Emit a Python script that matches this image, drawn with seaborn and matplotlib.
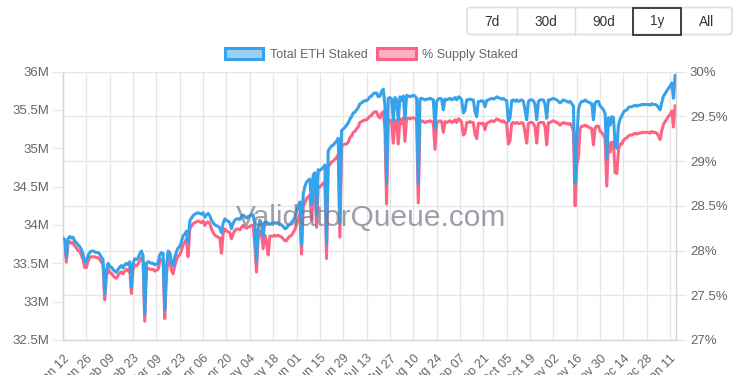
import pandas as pd
import numpy as np
import matplotlib
matplotlib.use("Agg")
import matplotlib.pyplot as plt
import matplotlib.dates as mdates
from matplotlib.patches import Patch, FancyBboxPatch, Rectangle
import seaborn as sns

sns.set_style("white")
plt.rcParams['font.family'] = ['Liberation Sans', 'DejaVu Sans']

# === daily values, Jan 12 2025 -> Jan 14 2026 (one row = 2 weeks) ===
start_date = "2025-01-12"
eth_staked_m = [
    33.83, 33.81, 33.58, 33.82, 33.85, 33.83, 33.84, 33.79, 33.77, 33.74, 33.72, 33.68, 33.62, 33.52,
    33.52, 33.60, 33.64, 33.66, 33.66, 33.65, 33.64, 33.64, 33.62, 33.58, 33.55, 33.10, 33.40, 33.50,
    33.46, 33.45, 33.42, 33.40, 33.38, 33.42, 33.45, 33.47, 33.44, 33.48, 33.50, 33.48, 33.52, 33.19,
    33.50, 33.56, 33.55, 33.57, 33.62, 33.66, 33.60, 32.83, 33.50, 33.52, 33.51, 33.50, 33.50, 33.48,
    33.49, 33.50, 33.61, 33.64, 33.63, 32.89, 33.45, 33.66, 33.64, 33.52, 33.47, 33.58, 33.65, 33.70,
    33.72, 33.78, 33.86, 33.88, 33.92, 33.78, 34.05, 34.09, 34.12, 34.14, 34.15, 34.16, 34.15, 34.14,
    34.16, 34.10, 34.13, 34.15, 34.12, 34.06, 34.03, 34.00, 33.99, 33.98, 33.96, 33.90, 34.02, 34.08,
    34.06, 34.05, 34.03, 33.95, 34.02, 34.06, 34.08, 34.08, 34.07, 34.11, 34.13, 34.11, 34.09, 34.11,
    34.12, 34.13, 34.13, 34.00, 33.52, 33.95, 34.06, 34.02, 33.85, 34.03, 34.04, 34.02, 34.01, 34.02,
    34.02, 34.03, 34.02, 34.03, 34.01, 34.00, 33.98, 33.95, 33.96, 33.99, 34.01, 34.03, 34.06, 34.10,
    34.18, 34.24, 34.30, 33.74, 34.40, 34.50, 34.56, 34.58, 34.60, 34.27, 34.65, 34.68, 34.12, 34.72,
    34.71, 34.73, 34.75, 34.78, 33.75, 34.97, 35.00, 35.03, 35.04, 35.07, 35.09, 35.13, 34.02, 35.23,
    35.25, 35.27, 35.30, 35.33, 35.38, 35.41, 35.46, 35.47, 35.50, 35.53, 35.58, 35.59, 35.61, 35.62,
    35.62, 35.64, 35.67, 35.68, 35.71, 35.72, 35.72, 35.67, 35.68, 35.74, 35.77, 35.56, 34.53, 35.65,
    35.66, 35.64, 35.36, 35.66, 35.63, 35.35, 35.67, 35.62, 35.68, 35.38, 35.69, 35.68, 35.67, 35.68,
    35.69, 35.68, 35.65, 34.53, 35.64, 35.65, 35.64, 35.63, 35.64, 35.64, 35.65, 35.64, 35.63, 35.26,
    35.61, 35.64, 35.65, 35.64, 35.50, 35.64, 35.63, 35.64, 35.65, 35.63, 35.64, 35.66, 35.63, 35.67,
    35.66, 35.63, 35.46, 35.49, 35.63, 35.63, 35.64, 35.63, 35.63, 35.48, 35.41, 35.61, 35.61, 35.62,
    35.61, 35.54, 35.62, 35.63, 35.64, 35.65, 35.64, 35.65, 35.67, 35.66, 35.65, 35.64, 35.65, 35.63,
    35.62, 35.35, 35.40, 35.62, 35.63, 35.61, 35.63, 35.61, 35.62, 35.63, 35.61, 35.50, 35.37, 35.61,
    35.63, 35.63, 35.62, 35.57, 35.37, 35.61, 35.63, 35.63, 35.63, 35.57, 35.39, 35.63, 35.63, 35.64,
    35.65, 35.64, 35.63, 35.61, 35.59, 35.61, 35.63, 35.62, 35.61, 35.60, 35.61, 35.58, 35.55, 34.55,
    35.10, 35.50, 35.58, 35.61, 35.61, 35.63, 35.61, 35.60, 35.59, 35.58, 35.37, 35.59, 35.61, 35.61,
    35.55, 35.53, 35.50, 35.45, 34.86, 35.40, 35.30, 35.41, 35.40, 35.05, 35.00, 35.30, 35.38, 35.42,
    35.47, 35.49, 35.50, 35.53, 35.54, 35.54, 35.55, 35.56, 35.55, 35.56, 35.56, 35.57, 35.57, 35.57,
    35.57, 35.57, 35.56, 35.58, 35.57, 35.57, 35.56, 35.53, 35.50, 35.60, 35.68, 35.71, 35.75, 35.78,
    35.81, 35.85, 35.65, 35.95,
]
supply_staked_pct = [
    28.08, 28.06, 27.87, 28.07, 28.10, 28.08, 28.09, 28.05, 28.03, 28.00, 27.99, 27.95, 27.90, 27.81,
    27.81, 27.88, 27.92, 27.93, 27.93, 27.93, 27.92, 27.92, 27.90, 27.87, 27.84, 27.45, 27.71, 27.80,
    27.75, 27.75, 27.72, 27.70, 27.69, 27.72, 27.75, 27.76, 27.74, 27.77, 27.79, 27.77, 27.80, 27.52,
    27.79, 27.84, 27.83, 27.85, 27.89, 27.92, 27.87, 27.21, 27.79, 27.80, 27.79, 27.79, 27.79, 27.77,
    27.78, 27.79, 27.88, 27.90, 27.88, 27.24, 27.72, 27.90, 27.88, 27.78, 27.74, 27.83, 27.89, 27.94,
    27.95, 28.00, 28.07, 28.09, 28.13, 27.93, 28.24, 28.27, 28.30, 28.31, 28.32, 28.33, 28.32, 28.31,
    28.33, 28.28, 28.31, 28.32, 28.30, 28.24, 28.20, 28.17, 28.16, 28.15, 28.14, 27.97, 28.19, 28.24,
    28.22, 28.21, 28.20, 28.13, 28.19, 28.22, 28.24, 28.24, 28.23, 28.26, 28.28, 28.26, 28.25, 28.26,
    28.27, 28.28, 28.28, 28.06, 27.76, 28.13, 28.22, 28.19, 28.02, 28.17, 28.10, 27.95, 28.16, 28.16,
    28.16, 28.17, 28.16, 28.17, 28.16, 28.15, 28.13, 28.11, 28.11, 28.14, 28.16, 28.17, 28.20, 28.23,
    28.30, 28.35, 28.41, 27.96, 28.49, 28.53, 28.58, 28.60, 28.62, 28.34, 28.66, 28.69, 28.26, 28.72,
    28.71, 28.73, 28.75, 28.77, 27.91, 28.94, 28.96, 28.99, 29.00, 29.02, 29.04, 29.07, 28.15, 29.16,
    29.18, 29.19, 29.19, 29.21, 29.26, 29.28, 29.32, 29.33, 29.36, 29.38, 29.43, 29.44, 29.45, 29.46,
    29.46, 29.48, 29.50, 29.51, 29.54, 29.55, 29.55, 29.50, 29.48, 29.53, 29.55, 29.37, 28.52, 29.45,
    29.46, 29.44, 29.20, 29.46, 29.43, 29.19, 29.47, 29.42, 29.48, 29.22, 29.48, 29.48, 29.47, 29.48,
    29.48, 29.48, 29.45, 28.53, 29.44, 29.45, 29.44, 29.43, 29.44, 29.44, 29.45, 29.44, 29.43, 29.13,
    29.42, 29.44, 29.45, 29.44, 29.32, 29.44, 29.43, 29.44, 29.45, 29.43, 29.44, 29.46, 29.43, 29.47,
    29.46, 29.43, 29.29, 29.31, 29.43, 29.43, 29.44, 29.43, 29.43, 29.30, 29.25, 29.42, 29.42, 29.42,
    29.42, 29.35, 29.42, 29.43, 29.44, 29.45, 29.44, 29.45, 29.47, 29.46, 29.45, 29.44, 29.45, 29.43,
    29.42, 29.19, 29.23, 29.42, 29.43, 29.42, 29.43, 29.42, 29.42, 29.43, 29.42, 29.32, 29.20, 29.42,
    29.43, 29.43, 29.42, 29.38, 29.20, 29.42, 29.43, 29.43, 29.43, 29.38, 29.18, 29.43, 29.43, 29.44,
    29.45, 29.44, 29.43, 29.42, 29.40, 29.42, 29.43, 29.42, 29.42, 29.41, 29.42, 29.39, 29.33, 28.50,
    28.95, 29.05, 29.36, 29.39, 29.39, 29.40, 29.39, 29.38, 29.37, 29.36, 29.18, 29.37, 29.39, 29.39,
    29.33, 29.32, 29.29, 29.25, 28.72, 29.21, 29.10, 29.21, 29.21, 28.87, 28.86, 29.12, 29.19, 29.19,
    29.23, 29.25, 29.26, 29.28, 29.29, 29.29, 29.30, 29.31, 29.30, 29.31, 29.31, 29.32, 29.32, 29.32,
    29.32, 29.32, 29.31, 29.33, 29.32, 29.32, 29.31, 29.28, 29.24, 29.34, 29.41, 29.44, 29.47, 29.50,
    29.52, 29.56, 29.38, 29.62,
]
eth_ticks = [32.5, 33, 33.5, 34, 34.5, 35, 35.5, 36]
eth_tick_labels = ["32.5M", "33M", "33.5M", "34M", "34.5M", "35M", "35.5M", "36M"]
pct_ticks = [27, 27.5, 28, 28.5, 29, 29.5, 30]
pct_tick_labels = ["27%", "27.5%", "28%", "28.5%", "29%", "29.5%", "30%"]
range_buttons = ["7d", "30d", "90d", "1y", "All"]
selected_range = "1y"
series_names = ["Total ETH Staked", "% Supply Staked"]

BLUE = "#36a2eb"
PINK = "#ff6384"
GRID = "#e6e6e6"
TEXT = "#666666"

dates = pd.date_range(start_date, periods=len(eth_staked_m), freq="D")
df = pd.DataFrame({"date": dates, "eth": eth_staked_m, "pct": supply_staked_pct})
tick_dates = pd.date_range(start_date, "2026-01-11", freq="14D")

fig = plt.figure(figsize=(7.43, 3.75), dpi=100)
W, H = 743, 375
ax_pct = fig.add_axes([63 / W, 35 / H, 613 / W, 268.5 / H])
ax_eth = ax_pct.twinx()
ax_pct.yaxis.tick_right()
ax_eth.yaxis.tick_left()

# pink first (underneath), blue on top
sns.lineplot(data=df, x="date", y="pct", ax=ax_pct, color=PINK, linewidth=2.2)
sns.lineplot(data=df, x="date", y="eth", ax=ax_eth, color=BLUE, linewidth=2.2)
for a in (ax_pct, ax_eth):
    a.set_xlabel("")
    a.set_ylabel("")
    for ln in a.get_lines():
        ln.set_solid_joinstyle("round")

ax_pct.set_xlim(dates[0], dates[-1] + pd.Timedelta(hours=12))
ax_eth.set_ylim(32.5, 36)
ax_pct.set_ylim(27, 30)

ax_eth.set_yticks(eth_ticks)
ax_eth.set_yticklabels(eth_tick_labels)
ax_pct.set_yticks(pct_ticks)
ax_pct.set_yticklabels(pct_tick_labels)
ax_pct.set_xticks(tick_dates)
ax_pct.xaxis.set_major_formatter(mdates.DateFormatter("%b %d"))

ax_pct.grid(True, color=GRID, linewidth=1)
ax_pct.tick_params(axis="x", length=7, color=GRID, labelcolor=TEXT, labelsize=9, pad=2)
ax_pct.tick_params(axis="y", length=7, color=GRID, labelcolor=TEXT, labelsize=9.5, pad=3)
ax_eth.tick_params(axis="y", length=7, color=GRID, labelcolor=TEXT, labelsize=9.5, pad=3)
for lbl in ax_pct.get_xticklabels():
    lbl.set_rotation(45)
    lbl.set_ha("right")
    lbl.set_rotation_mode("anchor")

for name, sp in ax_pct.spines.items():
    sp.set_color("#d3d3d3")
    sp.set_linewidth(1)
ax_pct.spines["top"].set_visible(False)
for sp in ax_eth.spines.values():
    sp.set_visible(False)

# legend
handles = [
    Patch(facecolor=BLUE + "80", edgecolor=BLUE, linewidth=2.2),
    Patch(facecolor=PINK + "80", edgecolor=PINK, linewidth=2.2),
]
fig.legend(handles, series_names, loc="center", bbox_to_anchor=(0.50, 1 - 54.5 / H),
           ncol=2, frameon=False, fontsize=9, labelcolor=TEXT, handlelength=3.1,
           handleheight=1.0, handletextpad=0.5, columnspacing=0.8)

# overlay in pixel coordinates for the range buttons and watermark
ov = fig.add_axes([0, 0, 1, 1])
ov.set_xlim(0, W)
ov.set_ylim(H, 0)
ov.axis("off")
ov.add_patch(FancyBboxPatch((467, 7.5), 265, 27, boxstyle="round,pad=0,rounding_size=3",
                            facecolor="white", edgecolor="#dddddd", linewidth=1.2))
edges = [467, 517, 575, 633, 681, 732]
for i, label in enumerate(range_buttons):
    x0, x1 = edges[i], edges[i + 1]
    if i > 0:
        ov.plot([x0, x0], [7.5, 34.5], color="#dddddd", linewidth=1)
    if label == selected_range:
        ov.add_patch(Rectangle((x0, 7.5), x1 - x0, 27, facecolor="none",
                               edgecolor="#333333", linewidth=1.3, zorder=3))
    ov.text((x0 + x1) / 2, 21.5, label, ha="center", va="center", fontsize=9.8, color="#333333")

ov.text(371, 218, "ValidatorQueue.com", ha="center", va="center", fontsize=21.5,
        color="#777788", alpha=0.7)

fig.savefig("out.png", dpi=100)
